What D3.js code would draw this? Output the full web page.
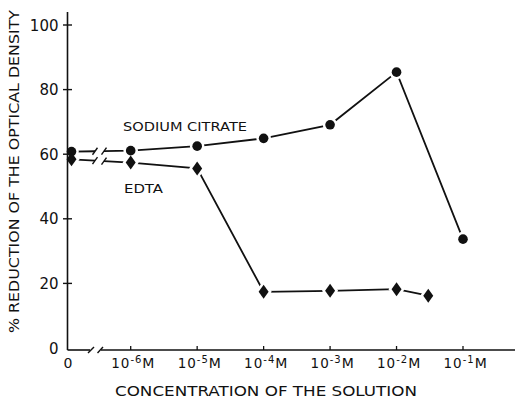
<!DOCTYPE html>
<html>
<head>
<meta charset="utf-8">
<script src="https://cdn.jsdelivr.net/npm/d3@7"></script>
<style>
  html, body { margin: 0; padding: 0; background: #fff; }
  svg { display: block; }
  text { font-family: "DejaVu Sans", sans-serif; fill: #111; }
</style>
</head>
<body>
<svg id="chart" width="515" height="403"></svg>
<script>
// Concentration of the added solution (molar); 0 = untreated control
const citrateConc = [0, 1e-6, 1e-5, 1e-4, 1e-3, 1e-2, 1e-1];
const citrateValues = [60.8, 61.1, 62.5, 64.9, 69.1, 85.4, 33.7];
const edtaConc = [0, 1e-6, 1e-5, 1e-4, 1e-3, 1e-2, 3e-2];
const edtaValues = [58.4, 57.4, 55.6, 17.4, 17.7, 18.2, 16.2];
const yTicks = [0, 20, 40, 60, 80, 100];
const xTickExponents = [-6, -5, -4, -3, -2, -1];
const seriesLabels = ["SODIUM CITRATE", "EDTA"];

const svg = d3.select("#chart");
const ink = "#111";

const axisX = 67.5;      // vertical axis position
const axisY = 350;       // horizontal axis position
const zeroX = 71.5;      // where the control (0 M) points sit

const y = d3.scaleLinear().domain([0, 100]).range([348, 25]);
const xLog = d3.scaleLog().domain([1e-6, 1e-1]).range([130.7, 463]);
const xPos = c => (c === 0 ? zeroX : xLog(c));

const gLines = svg.append("g");
const gHalo = svg.append("g");
const gMarks = svg.append("g");
const g = svg.append("g");

// ---- series ----
const diamondPath = (px, py) => `M${px},${py - 7}L${px + 5},${py}L${px},${py + 7}L${px - 5},${py}Z`;

function drawSeries(conc, vals, marker) {
  const pts = conc.map((c, i) => [xPos(c), y(vals[i])]);
  const line = d3.line();
  // control point up to the axis break, then onward from the first concentration
  const [p0, p1] = pts;
  const yAt = xx => p0[1] + (p1[1] - p0[1]) * (xx - p0[0]) / (p1[0] - p0[0]);
  const b1 = 95, b2 = 104;
  gLines.append("path").attr("d", line([p0, [b1, yAt(b1)]]))
    .attr("stroke", ink).attr("stroke-width", 1.8).attr("fill", "none");
  gLines.append("path").attr("d", line([[b2, yAt(b2)], ...pts.slice(1)]))
    .attr("stroke", ink).attr("stroke-width", 1.8).attr("fill", "none");
  [b1, b2].forEach(bx => {
    const by = yAt(bx);
    gLines.append("line").attr("x1", bx - 2.5).attr("y1", by + 3.5).attr("x2", bx + 2.5).attr("y2", by - 3.5)
      .attr("stroke", ink).attr("stroke-width", 1.4);
  });

  pts.forEach(([px, py]) => {
    [[gHalo, "#fff", 5], [gMarks, ink, 0]].forEach(([layer, stroke, sw]) => {
      const m = marker === "circle"
        ? layer.append("circle").attr("cx", px).attr("cy", py).attr("r", 4.8)
        : layer.append("path").attr("d", diamondPath(px, py));
      m.attr("fill", ink).attr("stroke", stroke).attr("stroke-width", sw);
    });
  });
}
drawSeries(citrateConc, citrateValues, "circle");
drawSeries(edtaConc, edtaValues, "diamond");

// ---- axes ----
g.append("line").attr("x1", axisX).attr("x2", axisX).attr("y1", 12).attr("y2", axisY)
  .attr("stroke", ink).attr("stroke-width", 1.6);

// horizontal axis with a break between 0 and 10^-6
g.append("line").attr("x1", axisX).attr("x2", 90).attr("y1", axisY).attr("y2", axisY)
  .attr("stroke", ink).attr("stroke-width", 1.6);
g.append("line").attr("x1", 101).attr("x2", 515).attr("y1", axisY).attr("y2", axisY)
  .attr("stroke", ink).attr("stroke-width", 1.6);
[[88, 94], [97.5, 103]].forEach(([a, b]) => {
  g.append("line").attr("x1", a).attr("y1", axisY + 3).attr("x2", b).attr("y2", axisY - 3)
    .attr("stroke", ink).attr("stroke-width", 1.4);
});

// y ticks and labels
yTicks.forEach(v => {
  if (v > 0) {
    g.append("line").attr("x1", axisX - 4.5).attr("x2", axisX + 4.5)
      .attr("y1", y(v)).attr("y2", y(v)).attr("stroke", ink).attr("stroke-width", 1.4);
  }
  g.append("text").attr("x", 58.5).attr("y", y(v) + 5.5)
    .attr("text-anchor", "end").attr("font-size", 15).text(v);
});

// x ticks and labels
g.append("text").attr("x", 68).attr("y", 368).attr("text-anchor", "middle")
  .attr("font-size", 14).text("0");
xTickExponents.forEach(e => {
  const tx = xLog(Math.pow(10, e));
  g.append("line").attr("x1", tx).attr("x2", tx).attr("y1", axisY - 4).attr("y2", axisY)
    .attr("stroke", ink).attr("stroke-width", 1.3);
  const t = g.append("text").attr("x", tx - 19.5).attr("y", 368).attr("font-size", 13.5)
    .attr("letter-spacing", 1);
  t.append("tspan").text("10");
  t.append("tspan").attr("dy", -5.5).attr("font-size", 10).text("-" + Math.abs(e));
  t.append("tspan").attr("dy", 5.5).attr("font-size", 14).text("M");
});

// axis titles
g.append("text").attr("x", 115).attr("y", 396)
  .attr("font-size", 13.5).attr("textLength", 302).attr("lengthAdjust", "spacingAndGlyphs")
  .text("CONCENTRATION OF THE SOLUTION");
g.append("text").attr("transform", "translate(18.5,333) rotate(-90)")
  .attr("font-size", 14.5).attr("textLength", 323).attr("lengthAdjust", "spacingAndGlyphs")
  .text("% REDUCTION OF THE OPTICAL DENSITY");

// series labels
g.append("text").attr("x", 123).attr("y", 130.5).attr("font-size", 12.5)
  .attr("textLength", 124).attr("lengthAdjust", "spacingAndGlyphs").text(seriesLabels[0]);
g.append("text").attr("x", 124).attr("y", 192.5).attr("font-size", 12.5)
  .attr("textLength", 39).attr("lengthAdjust", "spacingAndGlyphs").text(seriesLabels[1]);
</script>
</body>
</html>
